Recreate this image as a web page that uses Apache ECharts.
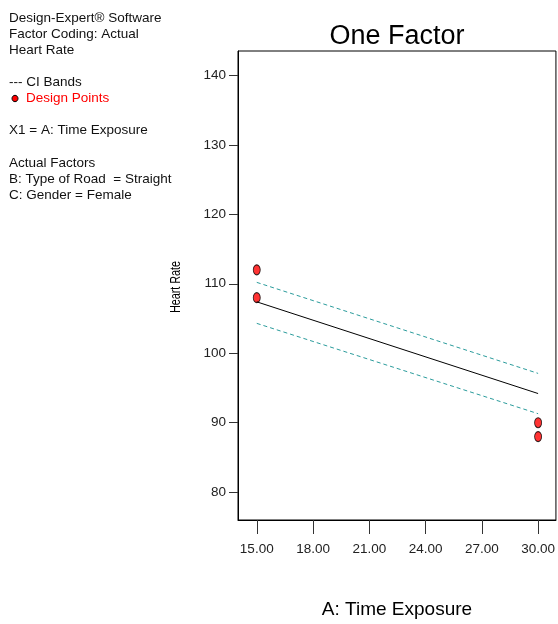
<!DOCTYPE html>
<html>
<head>
<meta charset="utf-8">
<script src="https://cdn.jsdelivr.net/npm/echarts@6/dist/echarts.min.js"></script>
<style>
html,body{margin:0;padding:0;background:#fff;}
#chart{width:558px;height:624px;}
</style>
</head>
<body>
<div id="chart"></div>
<script>
// ---- data ----
const xTicks = [15, 18, 21, 24, 27, 30];
const yTicks = [80, 90, 100, 110, 120, 130, 140];
const fitX = [15, 30];
const fitY = [107.4, 94.2];
const upperCI = [110.2, 97.1];
const lowerCI = [104.3, 91.3];
const designX = [15, 15, 30, 30];
const designY = [112, 108, 90, 88];
const infoLines = [
  'Design-Expert\u00ae Software',
  'Factor Coding: Actual',
  'Heart Rate',
  '',
  '--- CI Bands',
  'Design Points',
  '',
  'X1 = A: Time Exposure',
  '',
  'Actual Factors',
  'B: Type of Road  = Straight',
  'C: Gender = Female'
];
const titleText = 'One Factor';
const xName = 'A: Time Exposure';
const yName = 'Heart Rate';

const FONT = '"Liberation Sans", Arial, sans-serif';
const chart = echarts.init(document.getElementById('chart'));

const graphics = [];
infoLines.forEach((t, i) => {
  if (!t) return;
  const y = 18 + i * 16.1;
  if (t === 'Design Points') {
    graphics.push({type: 'ellipse', shape: {cx: 15, cy: y, rx: 3, ry: 3.2},
      style: {fill: '#ff0000', stroke: '#000', lineWidth: 1}});
    graphics.push({type: 'text', x: 26, y: y, 
      style: {text: t, fill: '#ff0000', font: '13.5px ' + FONT, verticalAlign: 'middle'}});
  } else {
    graphics.push({type: 'text', x: 9, y: y,
      style: {text: t, fill: '#111', font: '13.5px ' + FONT, verticalAlign: 'middle'}});
  }
});
// rotated, condensed y-axis title
graphics.push({type: 'text', x: 176, y: 287, rotation: Math.PI / 2, scaleX: 0.72,
  style: {text: yName, fill: '#000', font: '15px ' + FONT, align: 'center', verticalAlign: 'middle'}});

const pair = (xs, ys) => xs.map((x, i) => [x, ys[i]]);

chart.setOption({
  animation: false,
  backgroundColor: '#fff',
  title: {
    text: titleText, left: 397, top: 23, textAlign: 'center', padding: 0,
    textStyle: {fontFamily: FONT, fontSize: 27, fontWeight: 'normal', color: '#000'}
  },
  graphic: graphics,
  grid: {left: 238, top: 51, width: 318, height: 472, show: true,
    borderColor: '#000', borderWidth: 1, backgroundColor: 'transparent'},
  xAxis: {
    type: 'value', min: 14.0, max: 30.95,
    name: xName, nameLocation: 'middle', nameGap: 80,
    nameTextStyle: {fontFamily: FONT, fontSize: 19, color: '#000'},
    axisLine: {show: true, lineStyle: {color: '#000', width: 1}},
    axisTick: {show: true, length: 14, customValues: xTicks, lineStyle: {color: '#333'}},
    axisLabel: {customValues: xTicks, margin: 22, fontFamily: FONT, fontSize: 13.5, color: '#222',
      formatter: v => v.toFixed(2)},
    splitLine: {show: false}
  },
  yAxis: {
    type: 'value', min: 76, max: 143.5,
    axisLine: {show: true, lineStyle: {color: '#000', width: 1}},
    axisTick: {show: true, length: 9, customValues: yTicks, lineStyle: {color: '#333'}},
    axisLabel: {customValues: yTicks, margin: 12, fontFamily: FONT, fontSize: 13.5, color: '#222'},
    splitLine: {show: false}
  },
  series: [
    {type: 'line', data: pair(fitX, upperCI), symbol: 'none',
      lineStyle: {color: '#2b9c9c', width: 1, type: [4, 3]}},
    {type: 'line', data: pair(fitX, lowerCI), symbol: 'none',
      lineStyle: {color: '#2b9c9c', width: 1, type: [4, 3]}},
    {type: 'line', data: pair(fitX, fitY), symbol: 'none',
      lineStyle: {color: '#000', width: 1}},
    {type: 'scatter', data: pair(designX, designY), symbol: 'circle', symbolSize: [7, 10],
      itemStyle: {color: '#ff0000', borderColor: '#000', borderWidth: 1}}
  ]
});
</script>
</body>
</html>
